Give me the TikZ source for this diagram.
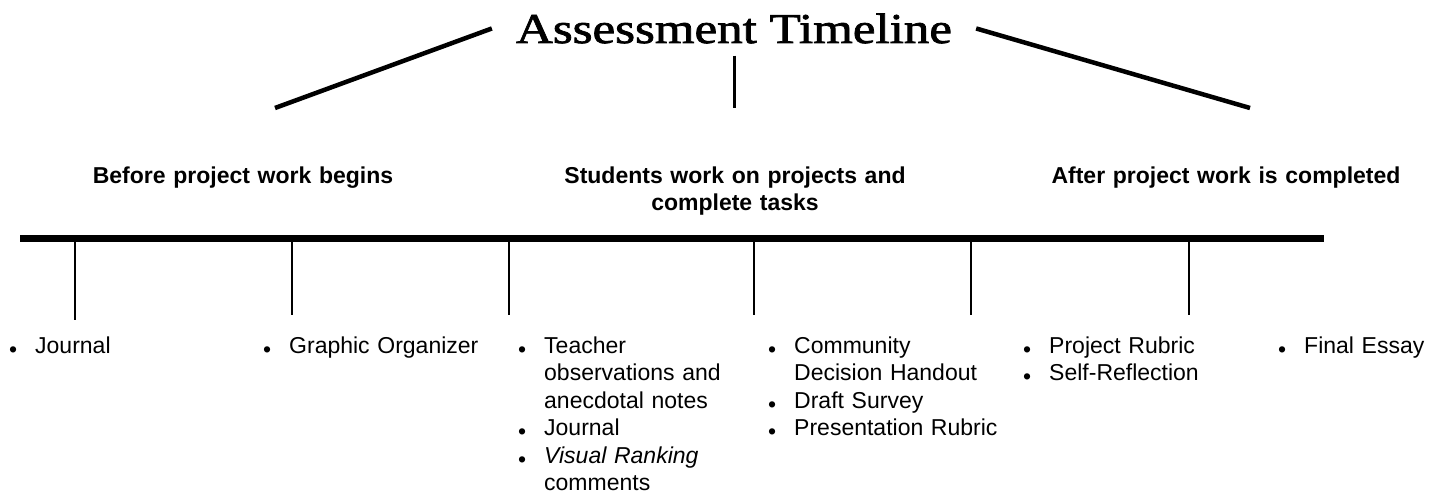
\documentclass[tikz,border=0pt]{standalone}
\usepackage{fontspec}
\setmainfont{Liberation Sans}
\newfontfamily\titlefont[FakeStretch=1.2,FakeBold=1.8]{Liberation Serif}
\usetikzlibrary{positioning}

% one bulleted entry, hanging under its own text
\newcommand{\entry}[1]{\lineskip=0pt\noindent
  \makebox[22pt][l]{\makebox[0pt][c]{\raisebox{-4pt}{\textbullet}}}%
  \begin{tabular}[t]{@{}l@{}}#1\end{tabular}\par}

\begin{document}
\begin{tikzpicture}[x=1pt,y=-1pt,
  heading/.style={font=\fontsize{23}{27.5}\selectfont\bfseries,
    text width=420pt, align=center, inner sep=0pt, anchor=base},
  items/.style={font=\fontsize{23}{27.5}\selectfont,
    text width=260pt, align=left, inner sep=0pt, anchor=base west},
  tick/.style={line width=2.6pt}]
  \useasboundingbox (0,0) rectangle (1439,495);

  % title and its three strokes
  \node[font=\titlefont\fontsize{42.5}{50}\selectfont,
    inner xsep=24pt, inner ysep=12pt, anchor=base] (title) at (734,43)
    {Assessment Timeline};
  \coordinate (lft) at (275,108);
  \coordinate (rgt) at (1250,108);
  \coordinate (stem) at (734,108);
  \draw[line width=4.5pt] (title.west) -- (lft);
  \draw[line width=4.5pt] (title.east) -- (rgt);
  \draw[line width=3pt] (title.south) -- (stem);

  % the three phases
  \node[heading] (before) at (243,183) {Before project work begins};
  \node[heading] (during) at (735,183)
    {Students work on projects and\\complete tasks};
  \node[heading] (after) at (1226,183) {After project work is completed};

  % the timeline and its ticks
  \coordinate (bar-l) at (20,238);
  \coordinate (bar-r) at (1324,238);
  \draw[line width=7pt] (bar-l) -- (bar-r);
  \coordinate (t1) at (75,238);
  \coordinate (t2) at (292,238);
  \coordinate (t3) at (509,238);
  \coordinate (t4) at (754,238);
  \coordinate (t5) at (971,238);
  \coordinate (t6) at (1189,238);
  \draw[line width=1.6pt] (t1) -- ++(0,82);
  \draw[tick] (t2) -- ++(0,77);
  \draw[tick] (t3) -- ++(0,77);
  \draw[tick] (t4) -- ++(0,77);
  \draw[tick] (t5) -- ++(0,77);
  \draw[tick] (t6) -- ++(0,77);

  % what is assessed at each tick
  \node[items] (i1) at (13,353) {\entry{Journal}};
  \node[items] (i2) at (267,353) {\entry{Graphic Organizer}};
  \node[items] (i3) at (522,353)
    {\entry{Teacher\\observations and\\anecdotal notes}
     \entry{Journal}
     \entry{\textit{Visual Ranking}\\comments}};
  \node[items] (i4) at (772,353)
    {\entry{Community\\Decision Handout}
     \entry{Draft Survey}
     \entry{Presentation Rubric}};
  \node[items] (i5) at (1027,353)
    {\entry{Project Rubric}
     \entry{Self-Reflection}};
  \node[items] (i6) at (1282,353) {\entry{Final Essay}};
\end{tikzpicture}
\end{document}
